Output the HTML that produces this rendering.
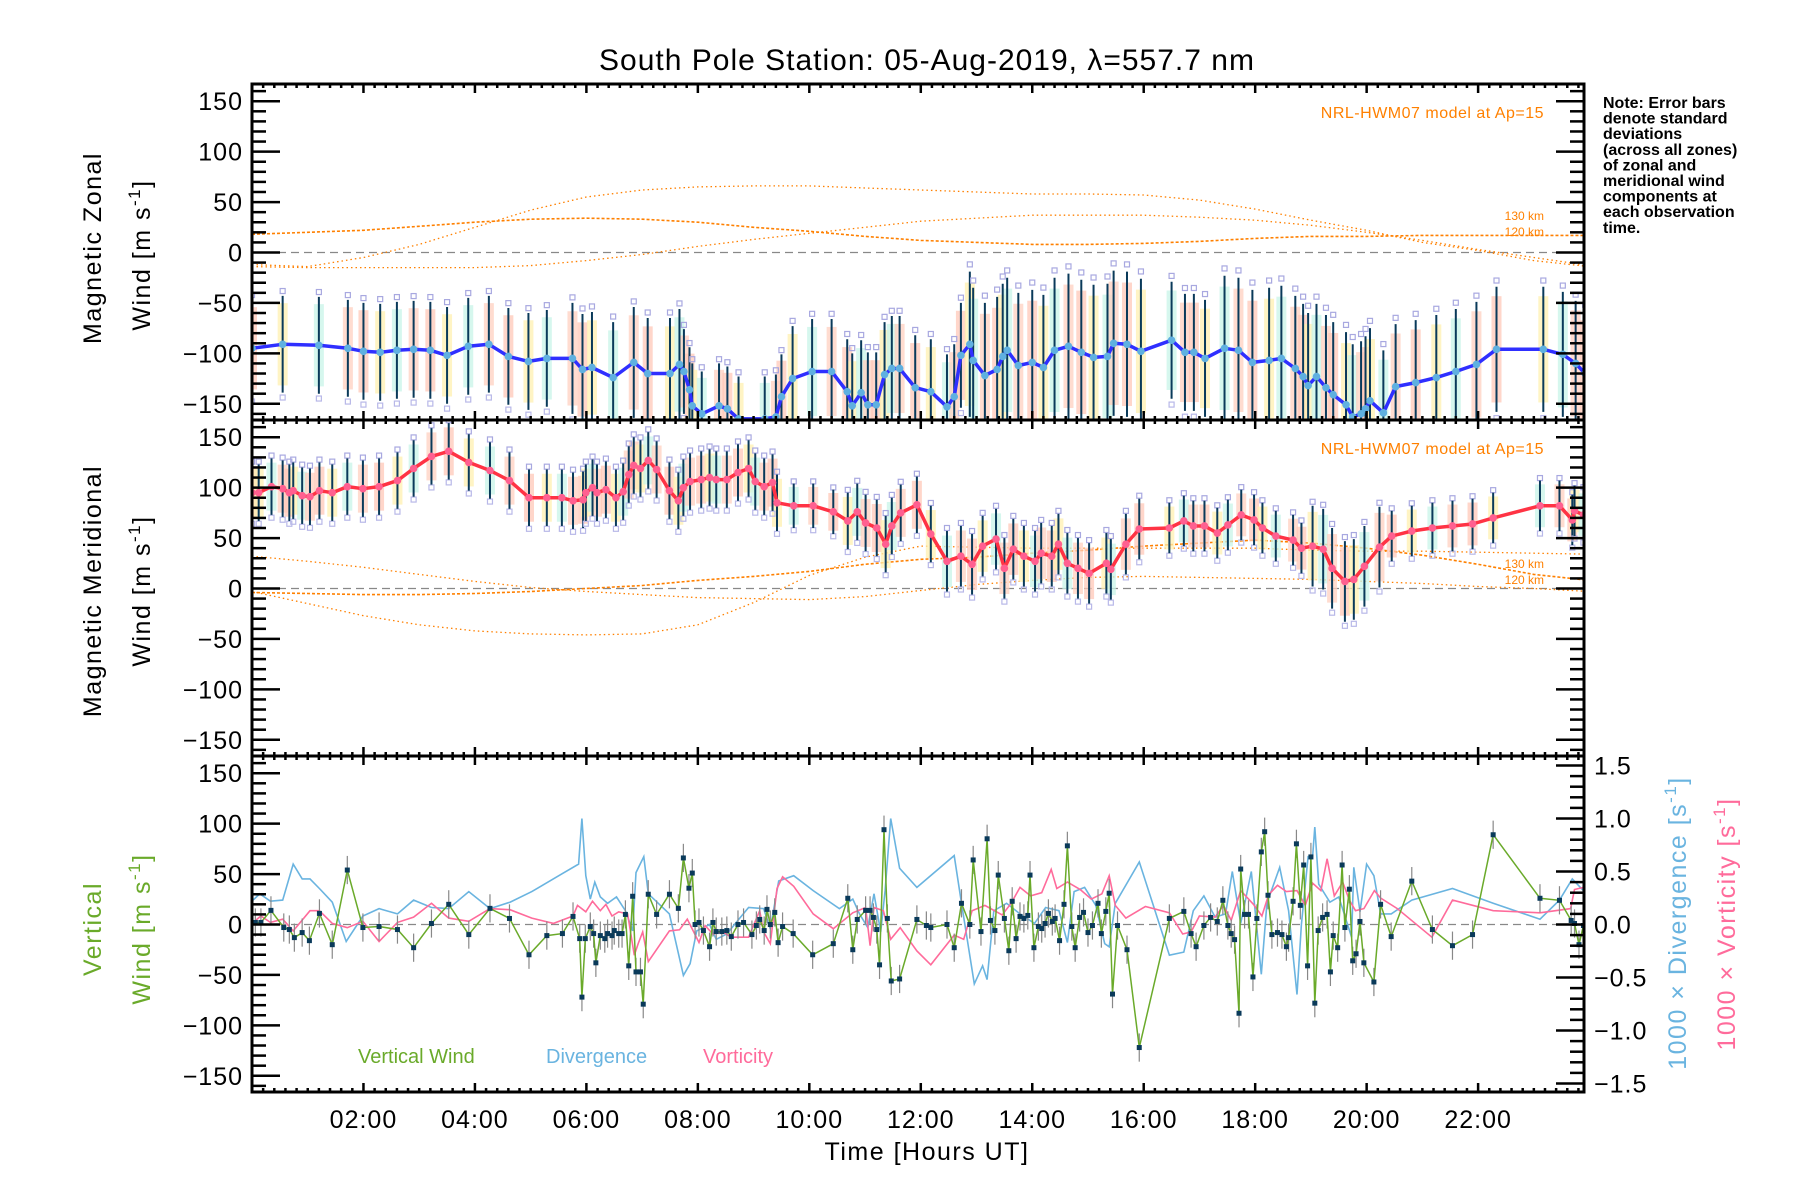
<!DOCTYPE html>
<html><head><meta charset="utf-8"><style>
html,body{margin:0;padding:0;background:#fff;}
svg{display:block;font-family:"Liberation Sans",sans-serif;}
</style></head><body>
<svg id="chart" width="1800" height="1200" viewBox="0 0 1800 1200" xmlns="http://www.w3.org/2000/svg">
<defs>
<clipPath id="c1"><rect x="252" y="84" width="1332" height="336"/></clipPath>
<clipPath id="c2"><rect x="252" y="420" width="1332" height="336"/></clipPath>
<clipPath id="c3"><rect x="252" y="756" width="1332" height="336"/></clipPath>
</defs>
<text x="927" y="70" font-size="30" text-anchor="middle" letter-spacing="1">South Pole Station: 05-Aug-2019, λ=557.7 nm</text>
<g font-size="16" font-weight="bold">
<text x="1603" y="108">Note: Error bars</text>
<text x="1603" y="123.6">denote standard</text>
<text x="1603" y="139.2">deviations</text>
<text x="1603" y="154.8">(across all zones)</text>
<text x="1603" y="170.4">of zonal and</text>
<text x="1603" y="186">meridional wind</text>
<text x="1603" y="201.6">components at</text>
<text x="1603" y="217.2">each observation</text>
<text x="1603" y="232.8">time.</text>
</g>
<g font-size="25" letter-spacing="1.5">
<text transform="translate(101,248) rotate(-90)" text-anchor="middle">Magnetic Zonal</text>
<text transform="translate(150,255) rotate(-90)" text-anchor="middle">Wind [m s<tspan dy="-10" font-size="17">-1</tspan><tspan dy="10">]</tspan></text>
<text transform="translate(101,591) rotate(-90)" text-anchor="middle">Magnetic Meridional</text>
<text transform="translate(150,591) rotate(-90)" text-anchor="middle">Wind [m s<tspan dy="-10" font-size="17">-1</tspan><tspan dy="10">]</tspan></text>
<text transform="translate(101,929) rotate(-90)" text-anchor="middle" fill="#6aaa2a">Vertical</text>
<text transform="translate(150,929) rotate(-90)" text-anchor="middle" fill="#6aaa2a">Wind [m s<tspan dy="-10" font-size="17">-1</tspan><tspan dy="10">]</tspan></text>
<text transform="translate(1686,923) rotate(-90)" text-anchor="middle" fill="#6ab4e0">1000 × Divergence [s<tspan dy="-10" font-size="17">-1</tspan><tspan dy="10">]</tspan></text>
<text transform="translate(1735,924) rotate(-90)" text-anchor="middle" fill="#ff6b9b">1000 × Vorticity [s<tspan dy="-10" font-size="17">-1</tspan><tspan dy="10">]</tspan></text>
<text x="927" y="1160" text-anchor="middle">Time [Hours UT]</text>
</g>
<g font-size="16" fill="#ff8000">
<text x="1544" y="118" text-anchor="end" letter-spacing="0.5">NRL-HWM07 model at Ap=15</text>
<text x="1544" y="454" text-anchor="end" letter-spacing="0.5">NRL-HWM07 model at Ap=15</text>
<text x="1544" y="220" text-anchor="end" font-size="12">130 km</text>
<text x="1544" y="236" text-anchor="end" font-size="12">120 km</text>
<text x="1544" y="568" text-anchor="end" font-size="12">130 km</text>
<text x="1544" y="584" text-anchor="end" font-size="12">120 km</text>
</g>
<g font-size="20">
<text x="358" y="1063" fill="#6aaa2a">Vertical Wind</text>
<text x="546" y="1063" fill="#6ab4e0">Divergence</text>
<text x="703" y="1063" fill="#ff6b9b">Vorticity</text>
</g>
<g id="plots"></g>
<g id="axes"></g>
</svg>
<script>
// ---- data ----
const modelHours = [0,1,2,3,4,5,6,7,8,9,10,11,12,13,14,15,16,17,18,19,20,21,22,23,24];
const zonalModelA = [-12,-14,-5,8,25,42,55,62,65,66,66,64,62,60,58,58,57,52,43,32,22,10,2,-8,-14];
const zonalModelB = [18,20,22,26,30,33,34,33,30,25,21,16,12,10,8,8,9,11,14,16,16,17,17,17,17];
const zonalModelC = [-14,-15,-15,-15,-15,-13,-8,-2,6,13,19,25,31,34,37,37,37,35,32,27,20,12,3,-5,-13];
const merModelD = [32,27,21,14,7,1,-3,-6,-9,-10,-11,-8,-2,4,8,11,12,11,10,9,7,5,2,0,-3];
const merModelE = [-3,-15,-27,-36,-42,-45,-46,-45,-36,-14,13,31,42,41,40,40,40,40,40,38,37,37,36,35,34];
const merModelF = [-4,-5,-6,-6,-5,-3,0,3,8,12,17,24,29,31,35,38,42,45,48,45,40,33,24,14,8];

const zonalT = [0,0.55,1.2,1.72,2.0,2.3,2.6,2.9,3.2,3.5,3.88,4.25,4.6,4.96,5.29,5.75,5.93,6.1,6.48,6.85,7.1,7.5,7.67,7.75,7.85,7.9,8.07,8.38,8.53,8.73,9.2,9.4,9.5,9.7,10.05,10.4,10.68,10.77,10.93,11.05,11.2,11.35,11.48,11.62,11.9,12.18,12.47,12.6,12.72,12.88,12.94,13.15,13.37,13.47,13.55,13.75,14.0,14.2,14.4,14.65,14.88,15.1,15.35,15.46,15.7,15.95,16.5,16.74,16.9,17.1,17.45,17.7,17.95,18.25,18.47,18.72,18.86,18.95,19.1,19.27,19.4,19.63,19.75,19.9,19.98,20.06,20.3,20.52,20.88,21.25,21.6,21.97,22.33,23.17,23.52,23.75,23.92];
const zonalV = [-95,-91,-92,-95,-98,-99,-97,-96,-97,-102,-93,-91,-103,-108,-105,-105,-116,-114,-124,-109,-120,-120,-111,-118,-136,-152,-160,-152,-155,-165,-165,-163,-143,-125,-118,-118,-138,-152,-139,-151,-151,-121,-115,-115,-134,-138,-153,-143,-102,-91,-107,-122,-116,-103,-97,-112,-109,-114,-97,-93,-99,-104,-103,-90,-91,-98,-87,-99,-99,-105,-95,-97,-109,-107,-105,-115,-123,-132,-123,-134,-141,-151,-163,-160,-155,-147,-159,-133,-129,-124,-118,-111,-96,-96,-101,-110,-120];
const zonalSdT = [0,5.7,7.7,9.6,12.8,16.2,17.2,20.3,24];
const zonalSd = [48,55,42,52,72,58,72,62];

const merT = [0,0.12,0.35,0.55,0.67,0.74,0.9,1.04,1.21,1.44,1.71,1.99,2.28,2.61,2.9,3.22,3.53,3.89,4.27,4.62,4.97,5.29,5.56,5.76,5.94,5.99,6.11,6.19,6.35,6.53,6.66,6.76,6.85,6.97,7.11,7.26,7.49,7.65,7.74,7.86,8.06,8.21,8.33,8.52,8.72,8.91,9.03,9.19,9.34,9.42,9.72,10.07,10.43,10.69,10.86,11.01,11.21,11.37,11.48,11.64,11.93,12.18,12.47,12.72,12.92,13.11,13.35,13.5,13.66,13.85,14.05,14.16,14.35,14.47,14.63,14.82,15.02,15.33,15.41,15.68,15.92,16.46,16.72,16.89,17.09,17.32,17.51,17.75,17.98,18.13,18.37,18.68,18.83,19.03,19.22,19.38,19.61,19.77,19.96,20.23,20.45,20.81,21.18,21.54,21.9,22.27,23.11,23.46,23.69,23.73,23.89];
const merV = [95,95,101,99,95,97,92,91,97,95,101,99,101,107,119,131,136,125,117,107,90,90,90,87,88,95,100,95,98,90,96,113,122,119,127,118,97,87,100,106,108,110,108,108,115,119,106,101,105,85,82,82,76,67,76,65,60,44,62,75,83,54,27,32,24,42,49,20,39,32,27,35,32,44,25,20,15,25,19,44,59,60,67,62,62,55,63,73,68,60,52,48,40,42,39,20,7,9,22,41,52,57,60,62,64,70,82,82,68,77,73];
const merSdT = [0,5.6,9.5,10.5,12.3,16.0,17.0,19.0,20.3,24];
const merSd = [28,28,22,28,30,25,25,40,25,22];

const vwT = [0.06,0.16,0.34,0.57,0.67,0.76,0.9,1.03,1.21,1.44,1.71,1.99,2.28,2.61,2.9,3.22,3.53,3.89,4.27,4.62,4.97,5.29,5.57,5.76,5.88,5.92,5.98,6.07,6.13,6.17,6.25,6.33,6.38,6.46,6.5,6.58,6.64,6.7,6.76,6.83,6.89,6.97,7.02,7.11,7.26,7.49,7.65,7.74,7.84,7.9,7.95,8.02,8.1,8.21,8.27,8.33,8.43,8.52,8.6,8.72,8.82,8.97,9.05,9.11,9.19,9.24,9.3,9.38,9.44,9.52,9.71,10.06,10.43,10.69,10.78,10.86,11.01,11.09,11.15,11.21,11.26,11.34,11.4,11.47,11.62,11.93,12.1,12.18,12.47,12.6,12.73,12.88,12.94,13.08,13.19,13.25,13.33,13.39,13.5,13.58,13.64,13.71,13.78,13.85,13.92,13.96,14.03,14.11,14.17,14.23,14.29,14.36,14.41,14.49,14.57,14.63,14.71,14.77,14.85,14.92,15.0,15.08,15.18,15.24,15.32,15.38,15.44,15.53,15.7,15.92,16.46,16.72,16.85,16.94,17.08,17.2,17.32,17.42,17.51,17.57,17.63,17.71,17.74,17.81,17.88,17.96,18.03,18.11,18.17,18.23,18.3,18.4,18.48,18.56,18.6,18.68,18.74,18.81,18.87,18.94,19.0,19.07,19.13,19.21,19.29,19.35,19.4,19.48,19.56,19.61,19.69,19.75,19.81,19.88,19.95,20.13,20.25,20.44,20.81,21.18,21.54,21.9,22.27,23.11,23.46,23.67,23.73,23.81,23.89];
const vwV = [2,2,14,-3,-5,-13,-8,-16,11,-20,54,-3,-2,-5,-23,1,20,-10,16,6,-30,-11,-9,8,-14,-72,-14,-2,-9,-38,-11,-14,-9,-11,-6,-9,-9,10,-41,28,-47,-47,-79,30,10,30,16,66,36,51,0,2,-6,-22,2,-7,-7,-6,-12,0,2,-10,-1,5,-6,15,0,12,-18,-2,-9,-30,-19,26,-25,5,14,14,7,-5,-40,94,6,-56,-54,5,-1,-3,0,-23,21,0,64,-7,85,4,-6,49,6,-26,23,-14,8,6,9,49,-23,-2,-4,1,11,3,6,-16,20,78,-2,-23,7,12,-8,-1,21,-9,13,31,-69,-1,-25,-122,6,13,-9,-22,-1,7,3,24,-1,-9,-15,-88,55,10,10,-52,6,72,92,29,-10,-8,-10,-22,-13,23,80,19,59,-41,67,-78,-6,7,10,-47,-11,-23,59,-3,35,-36,-29,3,-38,-57,20,-12,43,-5,-21,-10,89,26,24,4,1,-20,-1];

const divT = [0.02,0.14,0.33,0.55,0.74,0.9,1.04,1.21,1.44,1.69,1.99,2.28,2.61,2.9,3.22,3.53,3.89,4.27,4.63,5.02,5.57,5.86,5.92,5.99,6.07,6.15,6.25,6.38,6.54,6.7,6.83,6.89,7.03,7.11,7.49,7.74,7.86,7.98,8.21,8.33,8.52,8.72,8.91,9.18,9.3,9.45,9.72,10.07,10.54,10.78,10.9,11.05,11.16,11.28,11.36,11.46,11.62,11.93,12.6,12.73,12.96,13.11,13.19,13.31,13.54,13.78,14.04,14.24,14.48,14.63,14.75,14.94,15.14,15.3,15.38,15.49,15.92,16.46,16.72,16.89,17.08,17.28,17.47,17.59,17.74,17.93,18.11,18.21,18.44,18.6,18.75,18.83,18.95,19.03,19.07,19.14,19.34,19.5,19.73,19.77,19.88,20.0,20.13,20.25,20.44,20.81,21.54,22.27,23.11,23.46,23.69,23.89];
const divV = [0.23,0.29,0.22,0.23,0.57,0.43,0.43,0.34,0.21,-0.16,0.08,0.15,0.1,0.23,0.16,0.15,0.31,0.15,0.21,0.31,0.48,0.57,1.0,0.46,0.24,0.4,0.26,0.2,0.26,0.13,-0.06,0.49,0.64,0.29,0.1,-0.48,-0.37,-0.06,0,-0.14,-0.09,0.04,0.16,0.15,-0.04,0.41,0.46,0.32,0.15,0.24,0.1,-0.03,0.29,-0.07,0.32,1.0,0.53,0.35,0.65,0.2,-0.56,-0.39,-0.52,0.13,0.2,0.1,0.01,0.16,0.13,-0.17,0.31,0.35,0.18,-0.18,-0.21,0.2,0.59,-0.29,-0.26,0.13,0.27,0.07,0.1,0.5,0.01,0.5,-0.47,0.2,0.54,0.13,-0.66,0,0.64,0.64,0.92,0.38,0.21,0.26,-0.12,0.54,0.12,0.57,0.46,0.1,0.1,0.23,0.34,0.2,0.05,0.23,0.43,0.32];

const vorT = [0.02,0.16,0.33,0.55,0.74,1.04,1.21,1.44,1.71,1.99,2.28,2.61,2.9,3.22,3.53,3.89,4.27,4.63,5.02,5.41,5.76,5.84,5.99,6.11,6.25,6.35,6.46,6.58,6.74,6.86,6.93,7.01,7.11,7.49,7.67,7.81,8.02,8.13,8.27,8.45,8.6,8.91,9.11,9.18,9.3,9.42,9.52,9.72,10.07,10.43,10.78,11.01,11.09,11.16,11.33,11.46,11.63,11.93,12.18,12.6,12.77,12.92,13.15,13.46,13.62,13.78,13.97,14.17,14.34,14.44,14.63,14.86,15.06,15.25,15.38,15.49,15.68,16.03,16.46,16.7,16.85,17.0,17.28,17.43,17.57,17.74,17.97,18.12,18.24,18.4,18.56,18.75,18.9,19.03,19.18,19.29,19.42,19.57,19.69,19.8,19.95,20.14,20.25,20.55,21.17,21.54,22.27,23.11,23.66,23.73,23.89];
const vorV = [0.02,0.08,0.02,0.05,-0.06,0.13,0.13,0.01,-0.03,0.03,-0.16,0.02,0.07,0.2,0.06,0.03,0.15,0.14,0.06,0.01,0.08,0.18,0.12,0.22,0.13,0.19,0.08,0.12,0.1,-0.29,-0.18,-0.07,-0.35,-0.06,-0.05,0.05,-0.17,-0.01,-0.09,-0.07,-0.12,-0.12,0.13,-0.07,-0.18,0.34,0.45,0.36,0.1,-0.04,0.11,0.16,-0.2,0.16,0.13,-0.14,-0.03,-0.25,-0.38,-0.1,-0.14,0.13,0.18,0.09,0.2,0.35,0.27,0.3,0.52,0.34,0.4,0.33,0.24,0.29,0.46,0.18,0.06,0.17,0.11,-0.09,-0.07,0.08,0.07,0.18,0.04,0.32,0.19,0.08,0.28,0.37,0.31,0.32,0.18,0.39,0.32,0.62,0.27,0.4,0.23,0.13,0.15,0.32,0.25,0.15,-0.12,0.23,0.13,0.11,0.15,0.33,0.35];

const yTicks = [-150,-100,-50,0,50,100,150];
const divTicks = [-1.5,-1.0,-0.5,0.0,0.5,1.0,1.5];
const hourTicks = [2,4,6,8,10,12,14,16,18,20,22];

// ---- scales ----
const X0 = 252, X1 = 1584, TMAX = 23.9;
const PX = 1332 / TMAX;
function xs(t){ return X0 + t * PX; }
const tops = [84, 420, 756];
const PY = 1.0085;
function ys(p, v){ return tops[p] + 168.5 - v * PY; }
function yd(v){ return tops[2] + 168.5 - v * 106; }
const NS = 'http://www.w3.org/2000/svg';
const plots = document.getElementById('plots');
const axes = document.getElementById('axes');
function mk(tag, attrs, parent){ const e = document.createElementNS(NS, tag); for (const k in attrs) e.setAttribute(k, attrs[k]); (parent||plots).appendChild(e); return e; }
function mkGroup(name, clip){ const g = document.createElementNS(NS,'g'); if (clip) g.setAttribute('clip-path', 'url(#' + clip + ')');
  
  
  plots.appendChild(g); return g; }
function pathD(T, V, fy){ let d=''; const n = Math.min(T.length, V.length); for (let i=0;i<n;i++){ d += (i?'L':'M') + xs(T[i]).toFixed(1) + ',' + fy(V[i]).toFixed(1); } return d; }
function sdAt(ts, sds, t){ for (let i=0;i<sds.length;i++){ if (t>=ts[i] && t<ts[i+1]) return sds[i]; } return sds[sds.length-1]; }

// zero lines
for (let p=0;p<3;p++){
  const z = mk('line', {x1:X0, x2:X1, y1:ys(p,0), y2:ys(p,0), stroke:'#888', 'stroke-width':1.3, 'stroke-dasharray':'8,5'});
  
  
}

// model curves
function model(p, vals, name, dash, w){
  const g = mkGroup(name, 'c' + (p+1));
  const path = mk('path', {d:pathD(modelHours, vals, v=>ys(p,v)), fill:'none', stroke:'#ff8000', 'stroke-width':w, 'stroke-dasharray':dash}, g);
  
  
}
model(0, zonalModelA, 'zonal-model-a', '1.5,3', 1.3);
model(0, zonalModelB, 'zonal-model-b', '3,2', 1.6);
model(0, zonalModelC, 'zonal-model-c', '1.5,3', 1.3);
model(1, merModelD, 'meridional-model-d', '1.5,3', 1.3);
model(1, merModelE, 'meridional-model-e', '1.5,3', 1.3);
model(1, merModelF, 'meridional-model-f', '3,2', 1.6);

// wind panels with error bars
function windPanel(p, T, V, sdT, sd, lineCol, dotCol, name){
  const g = mkGroup(name, 'c' + (p+1));
  const n = Math.min(T.length, V.length);
  const pastel = ['#ffc8b8','#fff0b0','#c8f4e8','#ffd0c0'];
  for (let i=0;i<n;i++){
    const s = sdAt(sdT, sd, T[i]); const x = xs(T[i]);
    const band = mk('rect', {x:x-5, y:ys(p,V[i]+s*0.85), width:10, height:(s*1.7)*PY, fill:pastel[i%4], opacity:0.75}, g);
    
    
  }
  for (let i=0;i<n;i++){
    const s = sdAt(sdT, sd, T[i]); const x = xs(T[i]);
    const sq = mk('rect', {x:x-2.5, y:ys(p,V[i]+s*1.1)-2.5, width:5, height:5, fill:'none', stroke:'#a8a8e0', 'stroke-width':1.2}, g);
    
    
    const sq2 = mk('rect', {x:x-2.5, y:ys(p,V[i]-s*1.1)-2.5, width:5, height:5, fill:'none', stroke:'#b8b8e8', 'stroke-width':1.2}, g);
    
    
    const bar = mk('line', {x1:x, x2:x, y1:ys(p,V[i]+s), y2:ys(p,V[i]-s), stroke:'#0a3a5a', 'stroke-width':2}, g);
    
    
  }
  const line = mk('path', {d:pathD(T, V, v=>ys(p,v)), fill:'none', stroke:lineCol, 'stroke-width':3.5, 'stroke-linejoin':'round'}, g);
  
  
  for (let i=0;i<n;i++){
    const c = mk('circle', {cx:xs(T[i]), cy:ys(p,V[i]), r:3.8, fill:dotCol}, g);
    
    
  }
}
windPanel(0, zonalT, zonalV, zonalSdT, zonalSd, '#2f2fff', '#5fb0e0', 'zonal-wind');
windPanel(1, merT, merV, merSdT, merSd, '#ff3344', '#ff6090', 'meridional-wind');

// panel 3
const g3 = mkGroup('vertical-panel-series', 'c3');
const dv = mk('path', {d:pathD(divT, divV, yd), fill:'none', stroke:'#6ab4e0', 'stroke-width':1.6}, g3);


const vo = mk('path', {d:pathD(vorT, vorV, yd), fill:'none', stroke:'#ff6b9b', 'stroke-width':1.6}, g3);


const nvw = Math.min(vwT.length, vwV.length);
for (let i=0;i<nvw;i++){
  const x = xs(vwT[i]);
  const e = mk('line', {x1:x, x2:x, y1:ys(2,vwV[i]+14), y2:ys(2,vwV[i]-14), stroke:'#888', 'stroke-width':1.2}, g3);
  
  
}
const vw = mk('path', {d:pathD(vwT, vwV, v=>ys(2,v)), fill:'none', stroke:'#6aaa2a', 'stroke-width':1.5}, g3);


for (let i=0;i<nvw;i++){
  const r = mk('rect', {x:xs(vwT[i])-2.5, y:ys(2,vwV[i])-2.5, width:5, height:5, fill:'#0a3a5a'}, g3);
  
  
}

// axes
function ax(tag, attrs){ return mk(tag, attrs, axes); }
for (let p=0;p<3;p++){
  const fr = ax('rect', {x:X0, y:tops[p], width:X1-X0, height:336, fill:'none', stroke:'#000', 'stroke-width':3});
  
  
  for (let v=-160; v<=160; v+=10){
    const y = ys(p,v); const major = (v % 50 === 0); const L = major ? 28 : 14;
    ax('line', {x1:X0, x2:X0+L, y1:y, y2:y, stroke:'#000', 'stroke-width':2.5});
    if (p<2) ax('line', {x1:X1, x2:X1-L, y1:y, y2:y, stroke:'#000', 'stroke-width':2.5});
  }
  for (const v of yTicks){
    const t = ax('text', {x:243, y:ys(p,v)+9, 'font-size':25, 'text-anchor':'end', 'letter-spacing':1});
    t.textContent = (v<0 ? '\u2212' + Math.abs(v) : String(v));
    
    
  }
  for (let k=0; k<=Math.floor(TMAX/0.2); k++){
    const t = k*0.2; const x = xs(t); const major = (k % 10 === 0) && k>0; const L = major ? 9 : 4;
    ax('line', {x1:x, x2:x, y1:tops[p]+336, y2:tops[p]+336-L, stroke:'#000', 'stroke-width':2.5});
    ax('line', {x1:x, x2:x, y1:tops[p], y2:tops[p]+L, stroke:'#000', 'stroke-width':2.5});
  }
}
for (let k=-15; k<=15; k++){
  const v = k/10; const y = yd(v); const major = (k % 5 === 0); const L = major ? 28 : 14;
  ax('line', {x1:X1, x2:X1-L, y1:y, y2:y, stroke:'#000', 'stroke-width':2.5});
}
for (const v of divTicks){
  const t = ax('text', {x:1594, y:yd(v)+9, 'font-size':25, 'letter-spacing':1});
  t.textContent = (v<0 ? '\u2212' + Math.abs(v).toFixed(1) : v.toFixed(1));
  
  
}
for (const h of hourTicks){
  const t = ax('text', {x:xs(h), y:1128, 'font-size':25, 'text-anchor':'middle', 'letter-spacing':1});
  t.textContent = (h<10 ? '0' : '') + h + ':00';
  
  
}
</script>
</body></html>
